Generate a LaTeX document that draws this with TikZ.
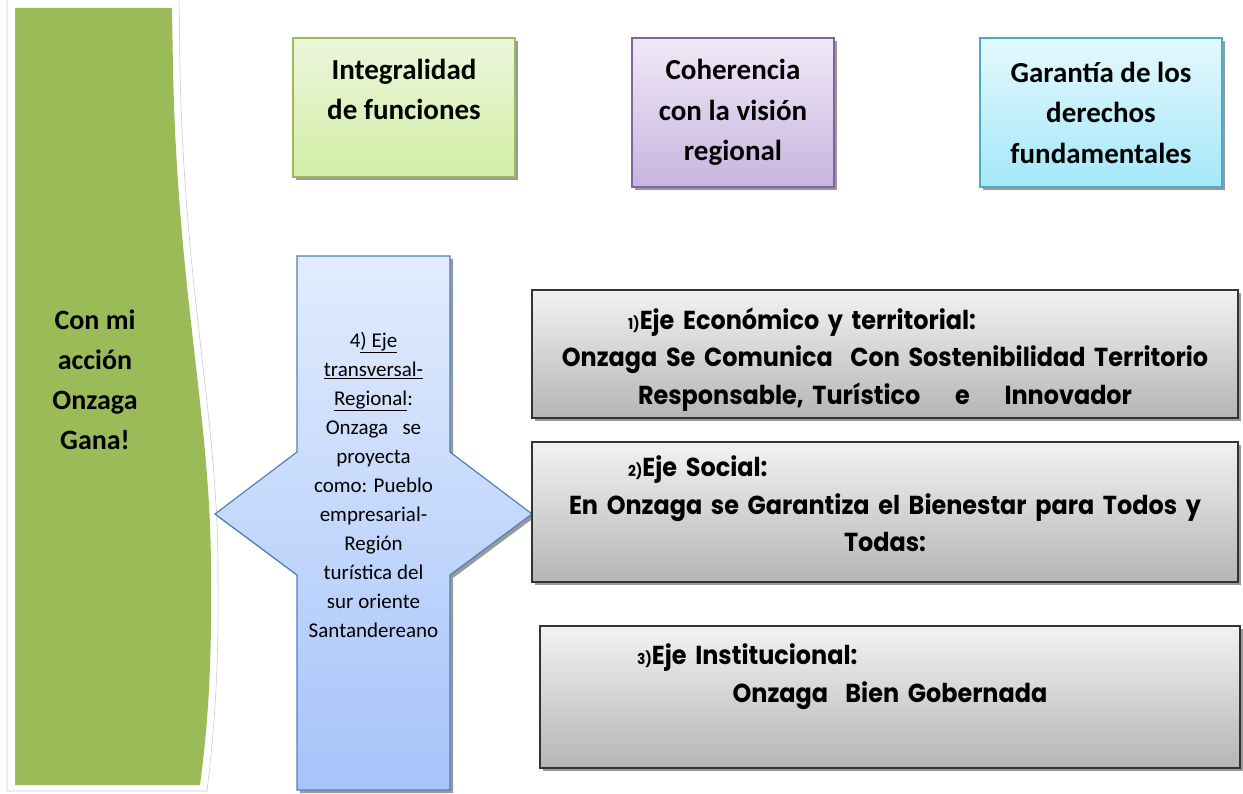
\documentclass[tikz,border=0pt]{standalone}
\usepackage{fontspec}
\setmainfont{Carlito}
\newfontfamily\gothicfont{Poppins}[FakeStretch=0.92]
\usetikzlibrary{shadows}

\newcommand{\ejetitulo}[3]{\makebox[\linewidth][l]{\hspace{#1}{\fontsize{15}{15}\selectfont #2)}#3}}

\begin{document}
\begin{tikzpicture}
        \tikzstyle{every node}=[inner sep=6pt]
        \tikzstyle{sombra}=[drop shadow={shadow xshift=3pt,shadow yshift=-3pt,fill=black!40,opacity=1}]
        \tikzstyle{principio}=[rectangle,draw,line width=1.2pt,align=center,sombra,
            font=\bfseries\fontsize{29}{40.5}\selectfont]
        \tikzstyle{eje}=[rectangle,draw=black!80,line width=1.3pt,align=center,sombra,
            top color=ejetop,bottom color=ejebottom,
            font=\gothicfont\bfseries\fontsize{26}{37.5}\selectfont]

        \definecolor{lemafill}{HTML}{9BBB59}
        \definecolor{ejetop}{HTML}{F2F2F2}
        \definecolor{ejebottom}{HTML}{B5B5B5}

        \useasboundingbox (0pt,0pt) rectangle (1243pt,-794pt);
        \fill[white] (0pt,0pt) rectangle (1243pt,-794pt);

        % franja verde de la izquierda
        \draw[black!20,line width=0.6pt] (7pt,0pt) -- (7pt,-791pt) -- (207pt,-791pt)
            .. controls (213pt,-740pt) and (219pt,-680pt) .. (218pt,-580pt)
            .. controls (219pt,-420pt) and (185pt,-300pt) .. (180pt,-70pt) -- (179pt,0pt);
        \fill[lemafill] (15pt,-8pt) -- (172pt,-8pt) -- (173pt,-70pt)
            .. controls (178pt,-300pt) and (212pt,-420pt) .. (211pt,-580pt)
            .. controls (212pt,-680pt) and (206pt,-740pt) .. (200pt,-785pt)
            -- (15pt,-785pt) -- cycle;
        \node[align=center,font=\bfseries\fontsize{28}{40}\selectfont] (lema) at (95pt,-380pt)
            {Con mi\\acción\\Onzaga\\Gana!};

        % principios
        \definecolor{gtop}{HTML}{EBF6DA}
        \definecolor{gbottom}{HTML}{D3EEA6}
        \definecolor{gstroke}{HTML}{9BBB59}
        \node[principio,draw=gstroke,top color=gtop,bottom color=gbottom,minimum width=222pt,minimum height=139pt]
            (integralidad) at (404pt,-107.5pt) {Integralidad\\de funciones\\[-4pt]\mbox{}};
        \definecolor{gtop}{HTML}{EFE9F6}
        \definecolor{gbottom}{HTML}{C8B4DF}
        \definecolor{gstroke}{HTML}{8064A2}
        \node[principio,draw=gstroke,top color=gtop,bottom color=gbottom,minimum width=202pt,minimum height=149pt]
            (coherencia) at (733pt,-112.5pt) {Coherencia\\con la visión\\regional};
        \definecolor{gtop}{HTML}{E4F8FD}
        \definecolor{gbottom}{HTML}{A3E8F9}
        \definecolor{gstroke}{HTML}{4BACC6}
        \node[principio,draw=gstroke,top color=gtop,bottom color=gbottom,minimum width=242pt,minimum height=149pt]
            (garantia) at (1101pt,-112.5pt) {Garantía de los\\derechos\\fundamentales};

        % eje transversal
        \definecolor{gtop}{HTML}{E2ECFD}
        \definecolor{gbottom}{HTML}{A5C4FA}
        \definecolor{gstroke}{HTML}{4F81BD}
        \shade[sombra,top color=gtop,bottom color=gbottom,draw=gstroke,line width=1.2pt,line join=miter]
            (297pt,-256pt) -- (450pt,-256pt) -- (450pt,-452pt) -- (532pt,-514pt) -- (450pt,-575pt)
            -- (450pt,-790pt) -- (297pt,-790pt) -- (297pt,-575pt) -- (215pt,-514pt) -- (297pt,-452pt) -- cycle;
        \node[align=center,font=\fontsize{21}{29}\selectfont] (transversal) at (373.5pt,-485pt)
            {4\underline{) Eje}\\\underline{transversal-}\\\underline{Regional}:\\Onzaga\ \ \ se\\proyecta\\
             como: Pueblo\\empresarial-\\Región\\turística del\\sur oriente\\Santandereano};

        % ejes
        \node[eje,minimum width=706pt,minimum height=128pt,text width=694pt] (economico) at (885pt,-354pt)
            {\mbox{}\\[-5pt]
             \ejetitulo{90pt}{1}{Eje Económico y territorial:}\\
             Onzaga Se Comunica\ \ Con Sostenibilidad Territorio\\
             Responsable, Turístico\ \ \ \ e\ \ \ \ Innovador};
        \node[eje,minimum width=706pt,minimum height=140pt,text width=694pt] (social) at (885pt,-512pt)
            {\ejetitulo{90pt}{2}{Eje Social:}\\
             En Onzaga se Garantiza el Bienestar para Todos y\\
             Todas:\\[-21pt]\mbox{}};
        \node[eje,minimum width=700pt,minimum height=142pt,text width=688pt] (institucional) at (890pt,-697pt)
            {\ejetitulo{91pt}{3}{Eje Institucional:}\\
             Onzaga\ \ Bien Gobernada\\[10pt]\mbox{}};
    \end{tikzpicture}
\end{document}
